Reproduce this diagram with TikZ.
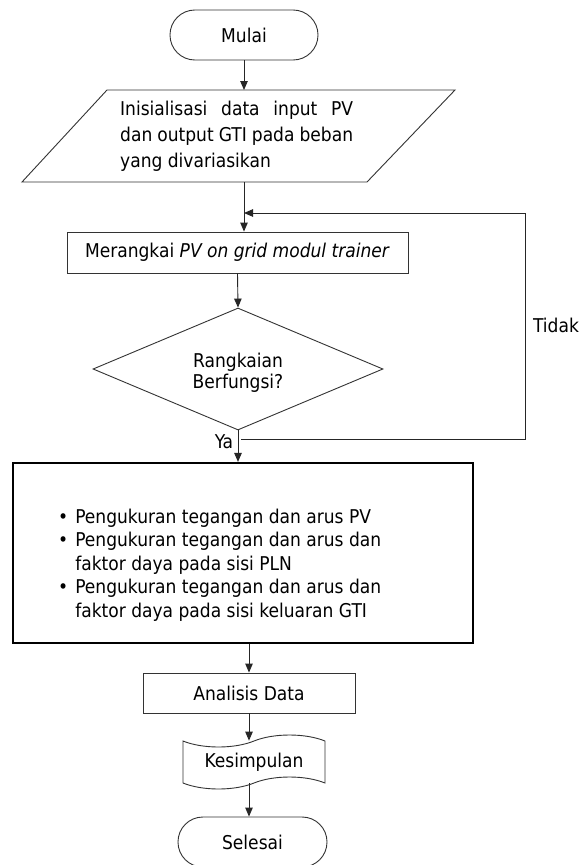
\documentclass[tikz,border=0pt]{standalone}
\usepackage{fontspec}
\setmainfont{DejaVu Sans Condensed}
\usetikzlibrary{shapes.geometric,shapes.symbols,arrows.meta}
\begin{document}
\begin{tikzpicture}[x=1pt,y=-1pt,
  txt/.style={font=\fontsize{19}{26}\selectfont, text=black},
  base/.style={txt, draw=black!80, line width=0.9pt, inner sep=0pt},
  term/.style={base, rectangle, rounded corners=24.9pt, minimum width=148pt, minimum height=50pt},
  procbox/.style={base, rectangle},
  decbox/.style={base, diamond},
  tapebox/.style={base, tape, tape bend height=12pt},
  arr/.style={draw=black!85, line width=0.9pt, -{Triangle[length=9pt,width=7.5pt]}},
  lin/.style={draw=black!85, line width=0.9pt}]
\useasboundingbox (0,0) rectangle (585,865);
\clip (0,0) rectangle (585,865);
\fill[white] (0,0) rectangle (585,865);

\node[term] (mulai) at (244,35) {Mulai};
% input/output parallelogram
\coordinate (pTL) at (107,90);
\coordinate (pTR) at (455,90);
\coordinate (pBR) at (367,182);
\coordinate (pBL) at (22,182);
\draw[lin, draw=black!80] (pTL) -- (pTR) -- (pBR) -- (pBL) -- cycle;
\node[txt, inner sep=0pt, text width=233pt, align=justify, anchor=north west] (para) at (120,101)
  {Inisialisasi data input PV\linebreak dan output GTI pada beban\linebreak yang divariasikan};
\coordinate (paraTop) at (244,90);
\coordinate (paraBot) at (244,182);

\node[procbox, minimum width=341pt, minimum height=41pt] (rangkai) at (237.5,252.5)
  {Merangkai \textit{PV on grid modul trainer}};
\node[decbox, minimum width=290pt, minimum height=122pt] (cek) at (238,369) {};
\node[txt, inner sep=0pt, align=center, font=\fontsize{19}{21}\selectfont] (cektxt) at (238,373)
  {Rangkaian\\Berfungsi?};
\node[procbox, line width=2.2pt, draw=black, minimum width=460pt, minimum height=180pt] (ukur) at (243,553) {};
\node[txt, anchor=base west, inner sep=0pt, font=\fontsize{19}{23.5}\selectfont] (items) at (58,523)
  {\begin{tabular}[t]{@{}l@{\hspace{7pt}}l@{}}
   \textbullet & Pengukuran tegangan dan arus PV\\
   \textbullet & Pengukuran tegangan dan arus dan\\
               & faktor daya pada sisi PLN\\
   \textbullet & Pengukuran tegangan dan arus dan\\
               & faktor daya pada sisi keluaran GTI
   \end{tabular}};
\node[procbox, minimum width=212pt, minimum height=40pt] (analisis) at (249,693) {Analisis Data};
\node[tapebox, minimum width=142pt, minimum height=54pt] (kes) at (254,762) {Kesimpulan};
\node[term, minimum width=149pt] (selesai) at (252.5,842) {Selesai};

\coordinate (fbR) at (525,439);
\coordinate (fbT) at (525,213);
\coordinate (ya) at (241,439);
\coordinate (join) at (244,213);

\node[txt, inner sep=0pt] (tidak) at (556,325) {Tidak};
\node[txt, inner sep=0pt] (yalbl) at (224,442) {Ya};

\draw[arr] (mulai.south) -- (paraTop);
\draw[arr] (paraBot) -- (paraBot |- rangkai.north);
\draw[arr] (rangkai.south) -- (cek.north);
\draw[arr] (cek.south) -- (cek.south |- ukur.north);
\draw[lin] (ya) -- (fbR) -- (fbT);
\draw[arr] (fbT) -- (join);
\draw[arr] (analisis.north |- ukur.south) -- (analisis.north);
\draw[arr] (analisis.south) -- (analisis.south |- kes.north);
\draw[arr] (analisis.south |- kes.south) -- (analisis.south |- selesai.north);
\end{tikzpicture}
\end{document}
